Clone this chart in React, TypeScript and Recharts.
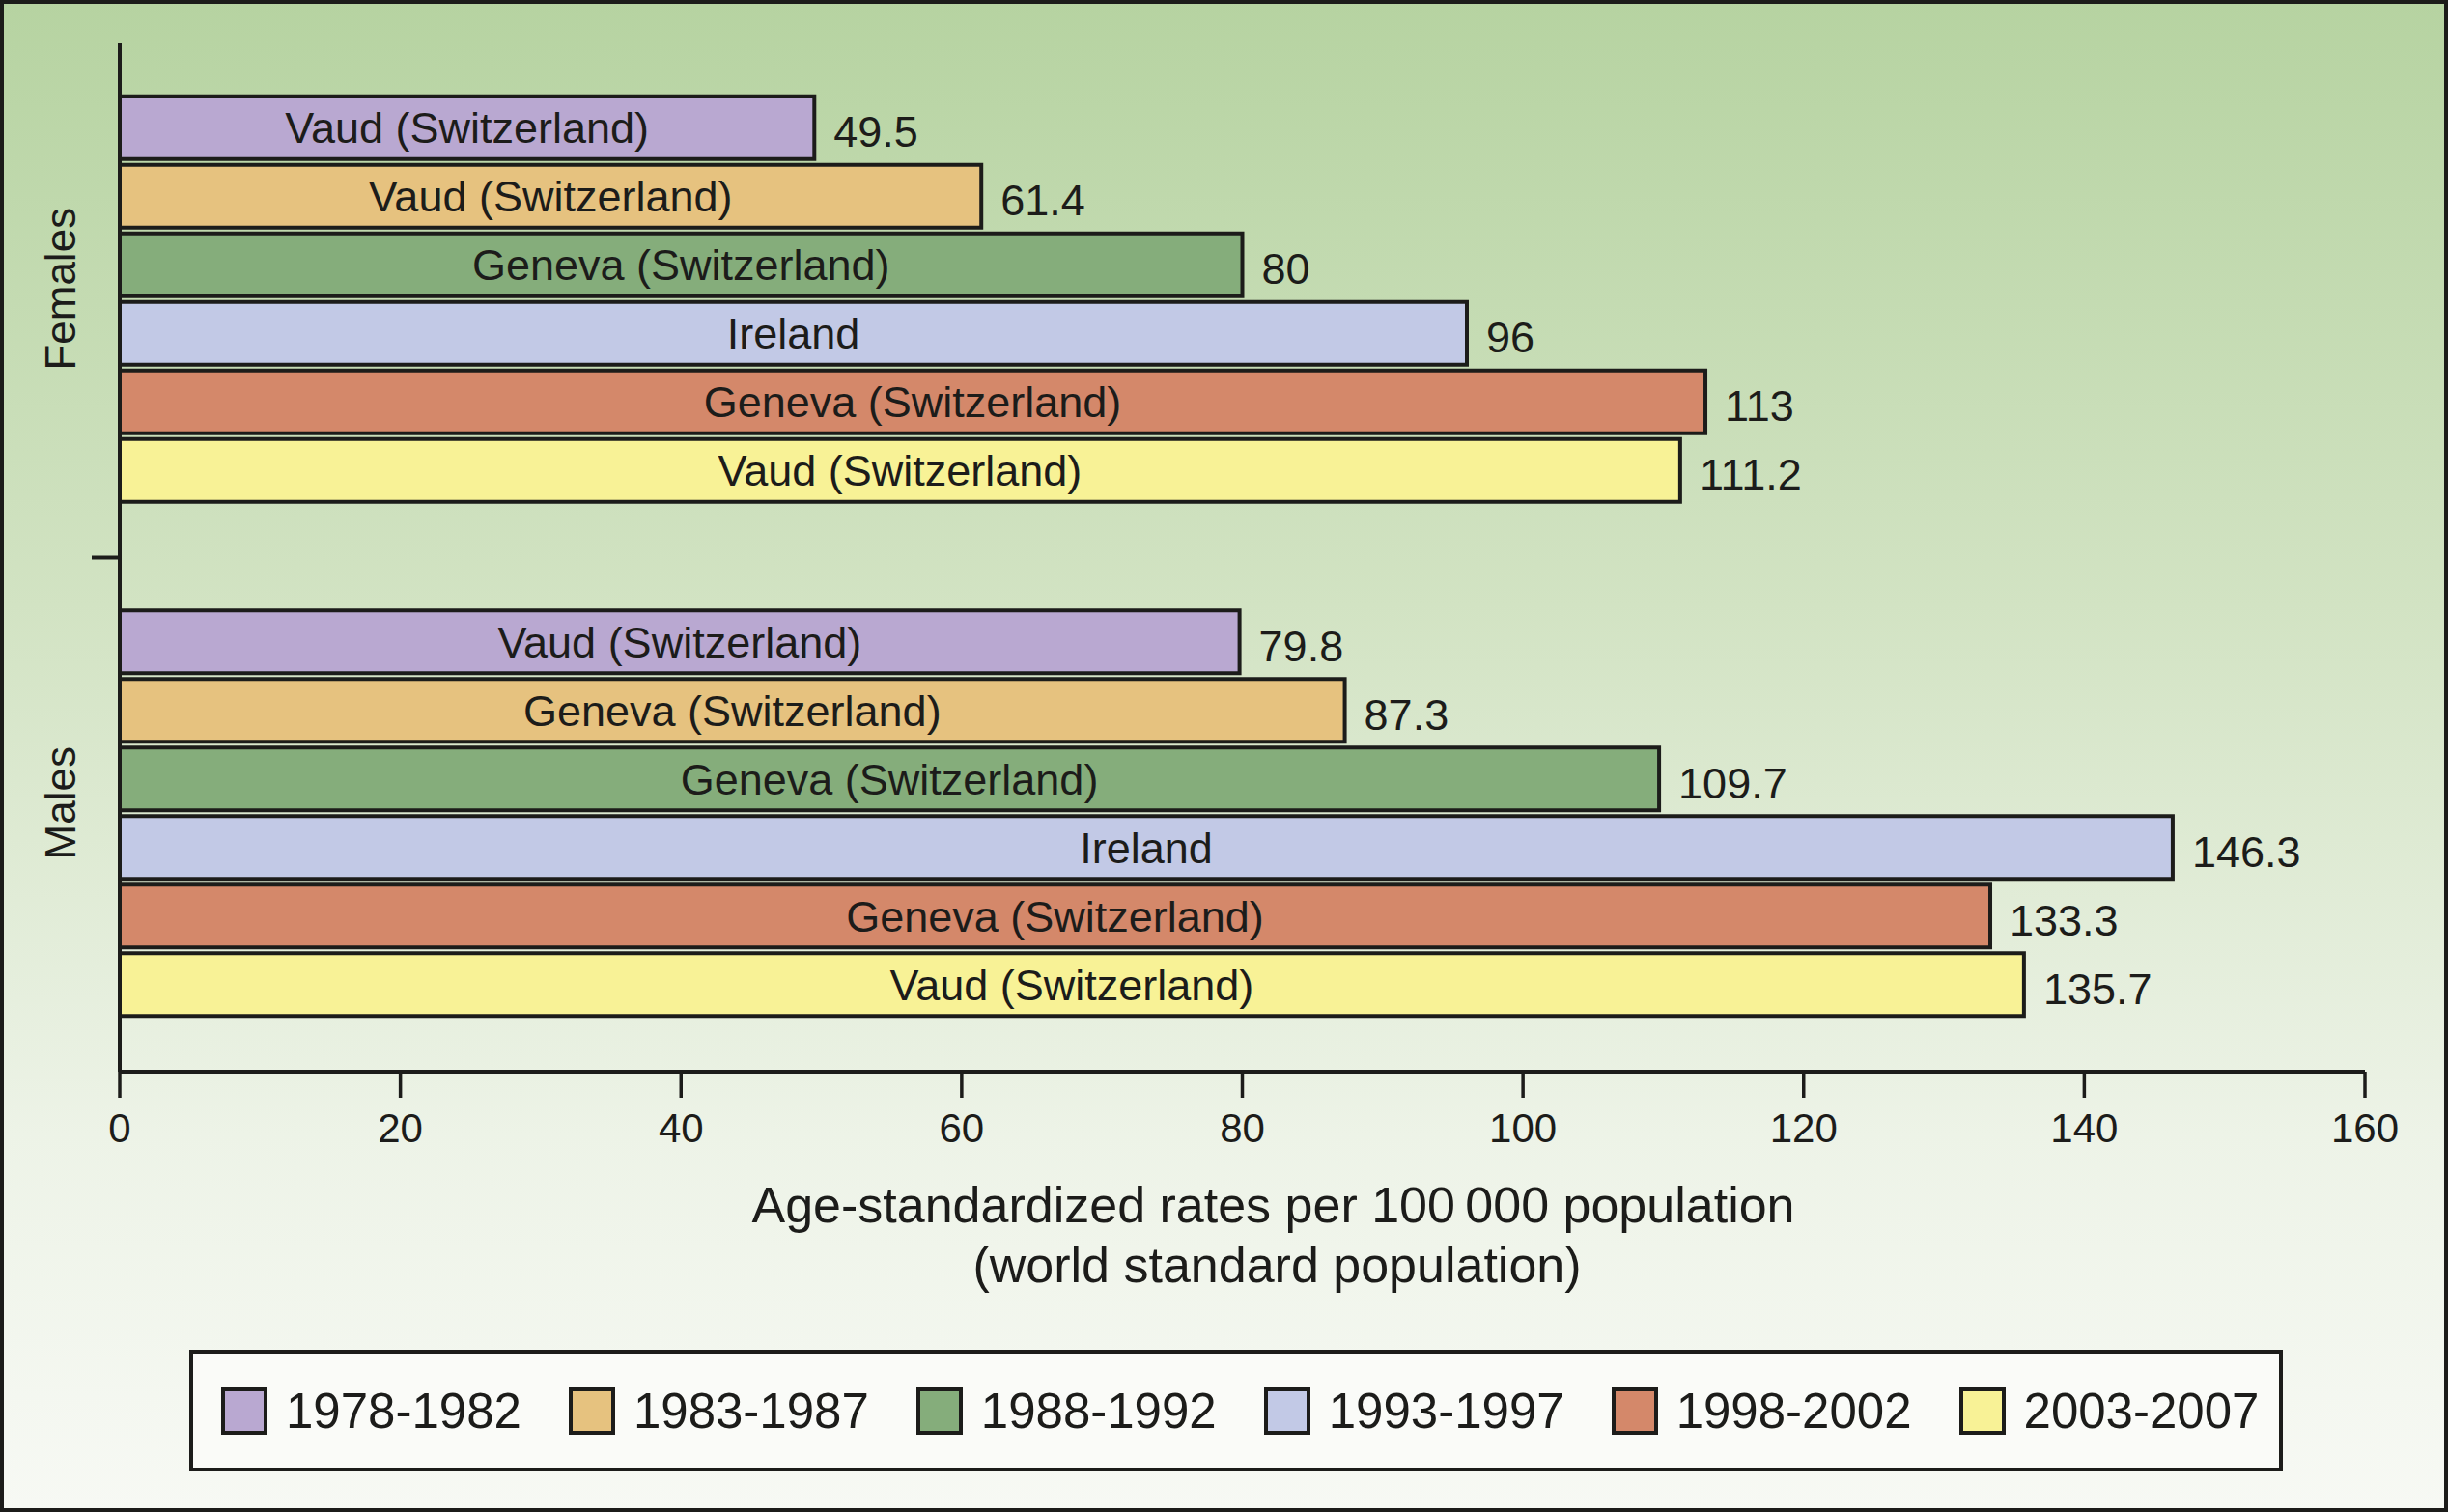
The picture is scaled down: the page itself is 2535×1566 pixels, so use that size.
import React from "react";
import { Bar, BarChart, LabelList, Legend, XAxis, YAxis } from "recharts";

// sex groups on the category axis
const groups = ["Females", "Males"];
const periods = ["1978-1982", "1983-1987", "1988-1992", "1993-1997", "1998-2002", "2003-2007"];

// age-standardized rates per 100 000, one value per period
const femaleRates = [49.5, 61.4, 80, 96, 113, 111.2];
const maleRates = [79.8, 87.3, 109.7, 146.3, 133.3, 135.7];

// registry with the highest rate in each period
const femaleRegions = [
  "Vaud (Switzerland)",
  "Vaud (Switzerland)",
  "Geneva (Switzerland)",
  "Ireland",
  "Geneva (Switzerland)",
  "Vaud (Switzerland)",
];
const maleRegions = [
  "Vaud (Switzerland)",
  "Geneva (Switzerland)",
  "Geneva (Switzerland)",
  "Ireland",
  "Geneva (Switzerland)",
  "Vaud (Switzerland)",
];

const xTicks = [0, 20, 40, 60, 80, 100, 120, 140, 160];
const axisTitle = ["Age-standardized rates per 100\u2009000 population", "(world standard population)"];

const colors = ["#b9a8d1", "#e6c27f", "#85ad7b", "#c2c9e6", "#d4886a", "#f8f296"];
const ink = "#1c1c1a";
const font = "'Liberation Sans', Arial, sans-serif";

const rows = groups.map((group, gi) => {
  const rates = gi === 0 ? femaleRates : maleRates;
  const regions = gi === 0 ? femaleRegions : maleRegions;
  const row: Record<string, string | number> = { group };
  periods.forEach((_, i) => {
    row[`v${i}`] = rates[i];
    row[`r${i}`] = regions[i];
  });
  return row;
});

function GroupTick(props: any) {
  const { x, y, payload, index } = props;
  const half = payload?.offset || 266;
  const tx = x - 62;
  const ty = y - 12;
  return (
    <g>
      <text
        x={tx}
        y={ty}
        transform={`rotate(-90 ${tx} ${ty})`}
        textAnchor="middle"
        dominantBaseline="central"
        fontSize={44}
        fontFamily={font}
        fill={ink}
      >
        {payload.value}
      </text>
      {index === 0 && (
        <line x1={x - 29} x2={x} y1={y + half} y2={y + half} stroke={ink} strokeWidth={4} />
      )}
    </g>
  );
}

function AxisTitle(props: any) {
  const vb = props.viewBox || { x: 124, y: 1110, width: 2325 };
  const cx = vb.x + vb.width / 2 + 32;
  return (
    <text textAnchor="middle" fontSize={52} fontFamily={font} fill={ink}>
      <tspan x={cx} y={vb.y + 156}>
        {axisTitle[0]}
      </tspan>
      <tspan x={cx + 4} y={vb.y + 218}>
        {axisTitle[1]}
      </tspan>
    </text>
  );
}

function PeriodLegend() {
  return (
    <div
      style={{
        boxSizing: "border-box",
        width: "100%",
        height: "100%",
        border: `4px solid ${ink}`,
        background: "#fafbf8",
        display: "flex",
        alignItems: "center",
        paddingLeft: 29,
        gap: 49,
        fontFamily: font,
        fontSize: 51,
        color: ink,
      }}
    >
      {periods.map((p, i) => (
        <div key={p} style={{ display: "flex", alignItems: "center", gap: 19 }}>
          <span
            style={{
              boxSizing: "border-box",
              width: 48,
              height: 49,
              background: colors[i],
              border: `4px solid ${ink}`,
              display: "inline-block",
            }}
          />
          <span style={{ lineHeight: 1 }}>{p}</span>
        </div>
      ))}
    </div>
  );
}

export default function App() {
  return (
    <div
      style={{
        position: "absolute",
        left: 0,
        top: 0,
        width: 2535,
        height: 1566,
        background: "linear-gradient(180deg, #b6d3a1 0%, #d2e3c3 40%, #edf3e7 75%, #f7f9f4 100%)",
      }}
    >
      <BarChart
        width={2535}
        height={1566}
        data={rows}
        layout="vertical"
        margin={{ top: 45, right: 86, bottom: 376, left: 24 }}
        barCategoryGap="10.3%"
        barGap={6}
      >
        <XAxis
          type="number"
          domain={[0, 160]}
          ticks={xTicks}
          interval={0}
          height={80}
          axisLine={{ stroke: ink, strokeWidth: 4 }}
          tickLine={{ stroke: ink, strokeWidth: 3.5 }}
          tickSize={27}
          tickMargin={16}
          tick={{ fontSize: 42, fontFamily: font, fill: ink }}
          label={{ content: AxisTitle }}
        />
        <YAxis
          type="category"
          dataKey="group"
          width={100}
          axisLine={{ stroke: ink, strokeWidth: 4 }}
          tickLine={false}
          tickSize={0}
          tickMargin={0}
          tick={GroupTick}
        />
        <Legend
          layout="horizontal"
          align="center"
          verticalAlign="middle"
          wrapperStyle={{ left: 196, top: 1398, width: 2168, height: 126 }}
          content={PeriodLegend}
        />
        {periods.map((p, i) => (
          <Bar
            key={p}
            dataKey={`v${i}`}
            name={p}
            fill={colors[i]}
            stroke={ink}
            strokeWidth={4}
            isAnimationActive={false}
          >
            <LabelList
              dataKey={`r${i}`}
              position="center"
              fontSize={45}
              fontFamily={font}
              fill={ink}
            />
            <LabelList
              dataKey={`v${i}`}
              position="right"
              offset={20}
              dy={4}
              fontSize={45}
              fontFamily={font}
              fill={ink}
            />
          </Bar>
        ))}
      </BarChart>
      <div
        style={{
          position: "absolute",
          left: 0,
          top: 0,
          width: 2535,
          height: 1566,
          boxSizing: "border-box",
          border: `4px solid ${ink}`,
          pointerEvents: "none",
        }}
      />
    </div>
  );
}
